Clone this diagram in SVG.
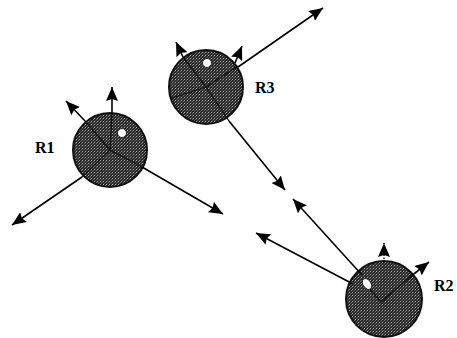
<svg xmlns="http://www.w3.org/2000/svg" width="457" height="338" viewBox="0 0 457 338">
<defs>
<pattern id="st" width="3" height="3" patternUnits="userSpaceOnUse">
<rect width="3" height="3" fill="#262626"/>
<rect x="1" y="1" width="1" height="1" fill="#b0b0b0"/>
<rect x="0" y="2" width="1" height="1" fill="#707070"/>
<rect x="2" y="0" width="1" height="1" fill="#555"/>
</pattern>
<marker id="ah" viewBox="0 0 14 12" refX="14" refY="6" markerWidth="14" markerHeight="12" markerUnits="userSpaceOnUse" orient="auto">
<path d="M0,0 L14,6 L0,12 L2,6 z" fill="#000"/>
</marker>
</defs>
<style>
.ball{fill:url(#st);stroke:#111;stroke-width:2}
.inner{stroke:#111;stroke-width:1.3;fill:none}
.dot{fill:#fff;stroke:#222;stroke-width:1}
.lbl{font-family:"Liberation Serif","Times New Roman",serif;font-weight:bold;font-size:16px;fill:#000}
.arr{stroke:#000;stroke-width:1.6;fill:none;marker-end:url(#ah)}
.dash{stroke:#000;stroke-width:1.3;stroke-dasharray:1.5 1.5;fill:none;marker-end:url(#ah)}
</style>
<g id="R1">
<circle class="ball" cx="110" cy="150" r="37"/>
<path class="inner" d="M86,122 L110,150 L82,177 M110,150 L142,167 M110,150 L112,113"/>
<circle class="dot" cx="122" cy="133" r="4.5"/>
<text class="lbl" x="35" y="153">R1</text>
</g>
<g id="R3">
<circle class="ball" cx="206" cy="87" r="37"/>
<path class="inner" d="M183,57 L206,87 L238,66 M206,87 L229,121 M206,87 L172,98"/>
<circle class="dot" cx="207" cy="63" r="4.5"/>
<text class="lbl" x="255" y="93">R3</text>
</g>
<g id="R2">
<circle class="ball" cx="384" cy="299" r="38"/>
<path class="inner" d="M362,280 L381,302 L410,277"/>
<path d="M384,262 L384,308" stroke="#222" stroke-width="1" stroke-dasharray="1.5 1.5" fill="none"/>
<ellipse class="dot" cx="367" cy="284" rx="4" ry="6" transform="rotate(-35 367 284)"/>
<text class="lbl" x="434" y="291">R2</text>
</g>
<g id="connectors">
<line class="arr" x1="112" y1="113" x2="112" y2="87"/>
<line class="arr" x1="86" y1="122" x2="66" y2="101"/>
<line class="arr" x1="82" y1="177" x2="12" y2="225"/>
<line class="arr" x1="142" y1="167" x2="223" y2="214"/>
<line class="arr" x1="183" y1="57" x2="176" y2="42"/>
<line class="arr" x1="235" y1="63" x2="242" y2="46"/>
<line class="arr" x1="238" y1="67" x2="323" y2="8"/>
<line class="arr" x1="229" y1="121" x2="285" y2="190"/>
<line class="dash" x1="384" y1="262" x2="384" y2="243"/>
<line class="arr" x1="410" y1="277" x2="429" y2="262"/>
<line class="arr" x1="353" y1="284" x2="256" y2="233"/>
<line class="arr" x1="362" y1="275" x2="293" y2="199"/>
</g>
</svg>
